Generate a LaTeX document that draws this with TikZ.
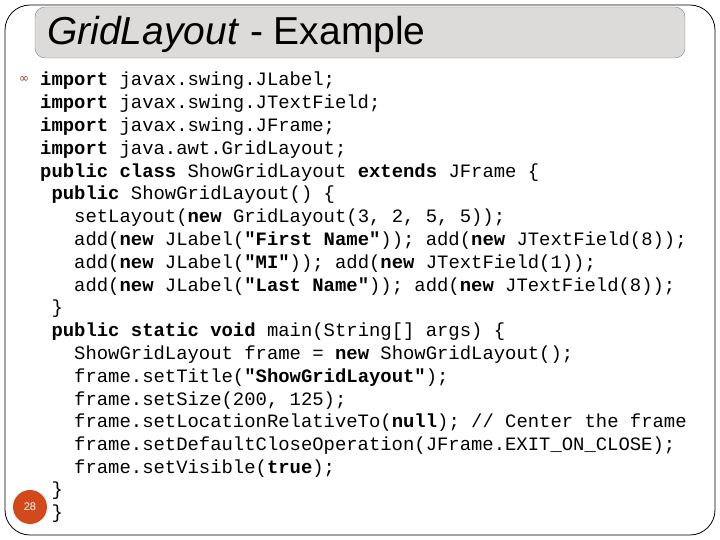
\documentclass[tikz,border=0pt]{standalone}
\usepackage{fontspec}
\setmainfont{Liberation Sans}
\setmonofont{Liberation Mono}
\newfontfamily\symfont{DejaVu Sans}
\definecolor{titlegray}{HTML}{DDDADA}
\definecolor{pageorange}{HTML}{D24A1C}
\newcommand\kw[1]{\textbf{#1}}
\newcommand\ind[1]{\hphantom{#1}}
\tikzset{code/.style={anchor=base west,inner sep=0pt,font=\ttfamily\fontsize{18.9}{20}\selectfont}}
\begin{document}
\begin{tikzpicture}[x=1pt,y=1pt]
\useasboundingbox(0,0)rectangle(720,540);
\draw[rounded corners=25pt,line width=.8pt](5,5)rectangle(715,535);
\draw[rounded corners=10pt,fill=titlegray,draw=gray](35,482)rectangle(685,533);
\node[anchor=base west,inner sep=0pt,font=\fontsize{39}{40}\selectfont](title)at(47,495){\textit{GridLayout} - Example};
\node[inner sep=0pt,font=\symfont\fontsize{12}{12}\selectfont,text=pageorange!70!black](bullet)at(24,460){∞};
\node[code](l1)at(40,454){\kw{import} javax.swing.JLabel;};
\node[code](l2)at(40,431){\kw{import} javax.swing.JTextField;};
\node[code](l3)at(40,408){\kw{import} javax.swing.JFrame;};
\node[code](l4)at(40,385){\kw{import} java.awt.GridLayout;};
\node[code](l5)at(40,362){\kw{public class} ShowGridLayout \kw{extends} JFrame \{};
\node[code](l6)at(40,340){\ind{x}\kw{public} ShowGridLayout() \{};
\node[code](l7)at(40,317){\ind{xxx}setLayout(\kw{new} GridLayout(3, 2, 5, 5));};
\node[code](l8)at(40,294){\ind{xxx}add(\kw{new} JLabel(\kw{"First Name"})); add(\kw{new} JTextField(8));};
\node[code](l9)at(40,271){\ind{xxx}add(\kw{new} JLabel(\kw{"MI"})); add(\kw{new} JTextField(1));};
\node[code](l10)at(40,248){\ind{xxx}add(\kw{new} JLabel(\kw{"Last Name"})); add(\kw{new} JTextField(8));};
\node[code](l11)at(40,226){\ind{x}\}};
\node[code](l12)at(40,203){\ind{x}\kw{public static void} main(String[] args) \{};
\node[code](l13)at(40,180){\ind{xxx}ShowGridLayout frame = \kw{new} ShowGridLayout();};
\node[code](l14)at(40,157){\ind{xxx}frame.setTitle(\kw{"ShowGridLayout"});};
\node[code](l15)at(40,134){\ind{xxx}frame.setSize(200, 125);};
\node[code](l16)at(40,112){\ind{xxx}frame.setLocationRelativeTo(\kw{null}); // Center the frame};
\node[code](l17)at(40,89){\ind{xxx}frame.setDefaultCloseOperation(JFrame.EXIT\_ON\_CLOSE);};
\node[code](l18)at(40,66){\ind{xxx}frame.setVisible(\kw{true});};
\node[code](l19)at(40,44){\ind{x}\}};
\node[code](l20)at(40,21){\ind{x}\}};
\node[circle,fill=pageorange,minimum size=34pt,inner sep=0pt,text=white,font=\fontsize{11}{12}\selectfont](page)at(30,33){28};
\end{tikzpicture}
\end{document}
